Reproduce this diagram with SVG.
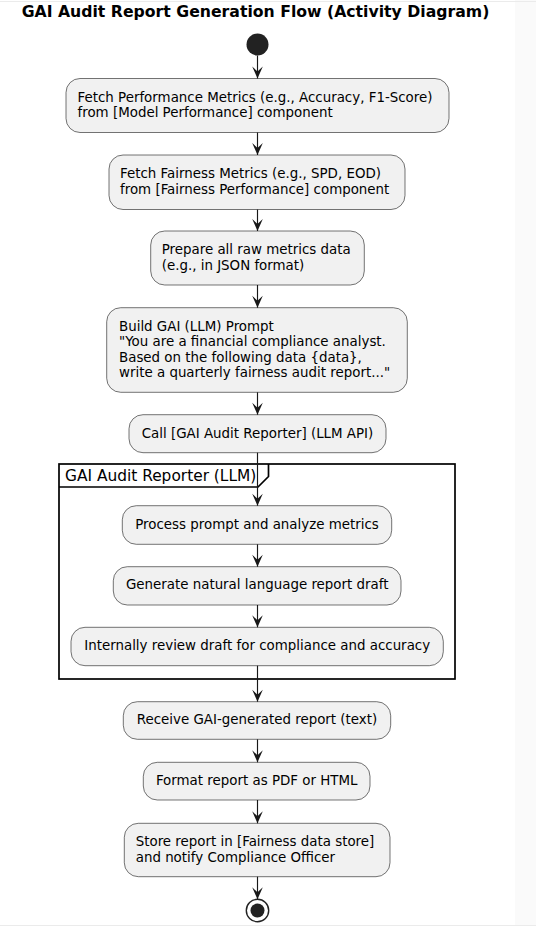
<svg xmlns="http://www.w3.org/2000/svg" width="536" height="926" viewBox="0 0 536 926">
<style>
.node rect{fill:#F1F1F1;stroke:#181818;stroke-width:0.6}
.node text{font-family:"DejaVu Sans",sans-serif;font-size:13.4px;fill:#000}
.c{text-anchor:middle}
.conn line{stroke:#181818;stroke-width:1.15;fill:none}
.title{font-family:"DejaVu Sans",sans-serif;font-size:15.7px;font-weight:bold;fill:#000;text-anchor:middle}
.frame{fill:none;stroke:#000;stroke-width:1.7}
.flabel{font-family:"DejaVu Sans",sans-serif;font-size:15.4px;fill:#000}
</style>
<defs>
<marker id="ah" viewBox="-13 -7 14 14" refX="0" refY="0" markerWidth="14" markerHeight="14" markerUnits="userSpaceOnUse" orient="auto">
<path d="M0,0 L-12,-5.3 L-7,0 L-12,5.3 Z" fill="#181818"/>
</marker>
</defs>
<rect x="0" y="0" width="536" height="926" fill="#FFFFFF"/>
<rect x="515" y="0" width="21" height="926" fill="#FAFAFA"/>
<line x1="0" y1="1.5" x2="536" y2="1.5" stroke="#EBEBEB" stroke-width="1"/>
<line x1="0" y1="925.5" x2="536" y2="925.5" stroke="#EBEBEB" stroke-width="1"/>
<text class="title" x="255.5" y="16.5">GAI Audit Report Generation Flow (Activity Diagram)</text>

<g id="frame-gai-audit-reporter">
<rect class="frame" x="59" y="464" width="396" height="215"/>
<path class="frame" d="M59,487 L258,487 L268.5,476.5 L268.5,464"/>
<text class="flabel" x="65" y="480.5">GAI Audit Reporter (LLM)</text>
</g>

<g id="start"><circle cx="257.5" cy="44.5" r="11" fill="#222222"/></g>

<g id="n1" class="node"><rect x="66" y="78.5" width="383" height="54" rx="14" ry="14"/>
<text x="77.5" y="101.8">Fetch Performance Metrics (e.g., Accuracy, F1-Score)</text>
<text x="77.5" y="117.3">from [Model Performance] component</text></g>

<g id="n2" class="node"><rect x="109" y="155" width="296" height="54.5" rx="14" ry="14"/>
<text x="120" y="178.2">Fetch Fairness Metrics (e.g., SPD, EOD)</text>
<text x="120" y="193.7">from [Fairness Performance] component</text></g>

<g id="n3" class="node"><rect x="150.7" y="231" width="213.6" height="54" rx="14" ry="14"/>
<text x="161.7" y="254.3">Prepare all raw metrics data</text>
<text x="161.7" y="269.8">(e.g., in JSON format)</text></g>

<g id="n4" class="node"><rect x="106.7" y="307.7" width="300.6" height="84.6" rx="14" ry="14"/>
<text x="119" y="330.7">Build GAI (LLM) Prompt</text>
<text x="119" y="346.2">"You are a financial compliance analyst.</text>
<text x="119" y="361.7">Based on the following data {data},</text>
<text x="119" y="377.2">write a quarterly fairness audit report..."</text></g>

<g id="n5" class="node"><rect x="129" y="414.7" width="257" height="38" rx="14" ry="14"/>
<text class="c" x="257.5" y="438.2">Call [GAI Audit Reporter] (LLM API)</text></g>

<g id="n6" class="node"><rect x="122.3" y="505.7" width="269.4" height="38.6" rx="14" ry="14"/>
<text class="c" x="257" y="528.6">Process prompt and analyze metrics</text></g>

<g id="n7" class="node"><rect x="113.3" y="566.7" width="287.7" height="38.3" rx="14" ry="14"/>
<text class="c" x="257.2" y="589.4">Generate natural language report draft</text></g>

<g id="n8" class="node"><rect x="71" y="627.3" width="372.3" height="38.4" rx="14" ry="14"/>
<text class="c" x="257.2" y="650.1">Internally review draft for compliance and accuracy</text></g>

<g id="n9" class="node"><rect x="123.3" y="701.7" width="267.4" height="37.6" rx="14" ry="14"/>
<text class="c" x="257" y="724.4">Receive GAI-generated report (text)</text></g>

<g id="n10" class="node"><rect x="143.3" y="762.3" width="226.7" height="37.7" rx="14" ry="14"/>
<text class="c" x="256.7" y="785.2">Format report as PDF or HTML</text></g>

<g id="n11" class="node"><rect x="124.3" y="823.3" width="265.7" height="53.4" rx="14" ry="14"/>
<text x="135.7" y="846.2">Store report in [Fairness data store]</text>
<text x="135.7" y="861.7">and notify Compliance Officer</text></g>

<g id="end"><circle cx="257.5" cy="910.5" r="11.2" fill="none" stroke="#222222" stroke-width="1.4"/>
<circle cx="257.5" cy="910.5" r="7" fill="#222222"/></g>

<g id="connectors" class="conn">
<line x1="257.5" y1="55.5" x2="257.5" y2="78.5" marker-end="url(#ah)"/>
<line x1="257.5" y1="132.5" x2="257.5" y2="155" marker-end="url(#ah)"/>
<line x1="257.5" y1="209.5" x2="257.5" y2="231" marker-end="url(#ah)"/>
<line x1="257.5" y1="285" x2="257.5" y2="307.7" marker-end="url(#ah)"/>
<line x1="257.5" y1="392.3" x2="257.5" y2="414.7" marker-end="url(#ah)"/>
<line x1="257.5" y1="452.7" x2="257.5" y2="505.7" marker-end="url(#ah)"/>
<line x1="257.5" y1="544.3" x2="257.5" y2="566.7" marker-end="url(#ah)"/>
<line x1="257.5" y1="605" x2="257.5" y2="627.3" marker-end="url(#ah)"/>
<line x1="257.5" y1="665.7" x2="257.5" y2="701.7" marker-end="url(#ah)"/>
<line x1="257.5" y1="739.3" x2="257.5" y2="762.3" marker-end="url(#ah)"/>
<line x1="257.5" y1="800" x2="257.5" y2="823.3" marker-end="url(#ah)"/>
<line x1="257.5" y1="876.7" x2="257.5" y2="899.3" marker-end="url(#ah)"/>
</g>
</svg>
